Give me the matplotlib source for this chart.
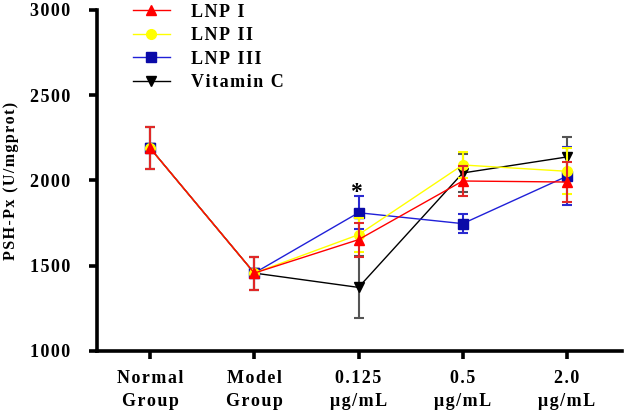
import matplotlib
matplotlib.use("Agg")
import matplotlib.pyplot as plt
import numpy as np

categories = ["Normal\nGroup", "Model\nGroup", "0.125\nμg/mL", "0.5\nμg/mL", "2.0\nμg/mL"]
series_names = ["LNP I", "LNP II", "LNP III", "Vitamin C"]
lnp1 = [2190, 1457, 1653, 1997, 1991]
lnp1_err = [125, 97, 100, 86, 117]
lnp2 = [2190, 1457, 1682, 2091, 2054]
lnp2_err = [125, 97, 100, 74, 134]
lnp3 = [2190, 1457, 1811, 1747, 2025]
lnp3_err = [125, 97, 96, 54, 170]
vitc = [2190, 1457, 1373, 2044, 2138]
vitc_err = [125, 97, 182, 110, 120]
yticks = [1000, 1500, 2000, 2500, 3000]

plt.rcParams['font.family'] = ['Liberation Serif', 'DejaVu Serif']
plt.rcParams['font.weight'] = 'bold'


def sp(s, ch='\u200a'):
    return "\n".join(ch.join(line) for line in s.split("\n"))


fig = plt.figure(figsize=(6.24, 4.11), dpi=100)
ax = fig.add_axes([0.1554, 0.146, 0.8416, 0.8297])

x = np.arange(len(categories))
styles = [
    (vitc, vitc_err, 'black', '#555555', 'v', 1),
    (lnp3, lnp3_err, '#2020d8', '#2a2ad0', 's', 2),
    (lnp2, lnp2_err, '#ffff00', '#ffff00', 'o', 3),
    (lnp1, lnp1_err, '#ff0000', '#e02828', '^', 4),
]
mfc = {'black': 'black', '#2020d8': '#0a0aa8', '#ffff00': '#ffff00', '#ff0000': '#ff0000'}
handles = {}
for (vals, errs, col, ecol, mk, z), name in zip(styles, ["Vitamin C", "LNP III", "LNP II", "LNP I"]):
    ax.errorbar(x, vals, yerr=errs, fmt='none', ecolor=ecol, elinewidth=1.5,
                capsize=3.8, capthick=1.5, zorder=z)
    h, = ax.plot(x, vals, color=col, lw=1.0, marker=mk, markersize=7,
                 markerfacecolor=mfc[col], markeredgecolor=mfc[col], zorder=z + 0.5)
    handles[name] = h

ax.text(x[2] - 0.02, 1930, "*", ha='center', va='center', fontsize=17, fontweight='bold')

ax.set_xlim(-0.51, 4.53)
ax.set_ylim(1000, 3000)
ax.set_yticks(yticks)
ax.set_yticklabels([sp(str(v)) for v in yticks])
ax.set_xticks(x)
ax.set_xticklabels([sp(c) for c in categories], linespacing=1.45)
ax.set_ylabel(sp("PSH-Px (U/mgprot)"), fontsize=11.5, fontweight='bold', labelpad=8)

for s in ['top', 'right']:
    ax.spines[s].set_visible(False)
for s in ['left', 'bottom']:
    ax.spines[s].set_linewidth(2.6)
ax.tick_params(axis='both', width=2.6, length=6, direction='out')
ax.tick_params(axis='y', labelsize=13, pad=13)
ax.tick_params(axis='x', labelsize=13, pad=8)
for lab in ax.get_xticklabels() + ax.get_yticklabels():
    lab.set_fontweight('bold')

leg = fig.legend([handles[n] for n in series_names], [sp(n) for n in series_names],
                 loc='upper left', bbox_to_anchor=(0.213, 0.991), frameon=False,
                 prop={'family': ['Liberation Serif', 'DejaVu Serif'], 'weight': 'bold', 'size': 13},
                 handlelength=2.05, labelspacing=0.36, handletextpad=1.15,
                 borderpad=0, borderaxespad=0)

fig.savefig("out.png", dpi=100)
